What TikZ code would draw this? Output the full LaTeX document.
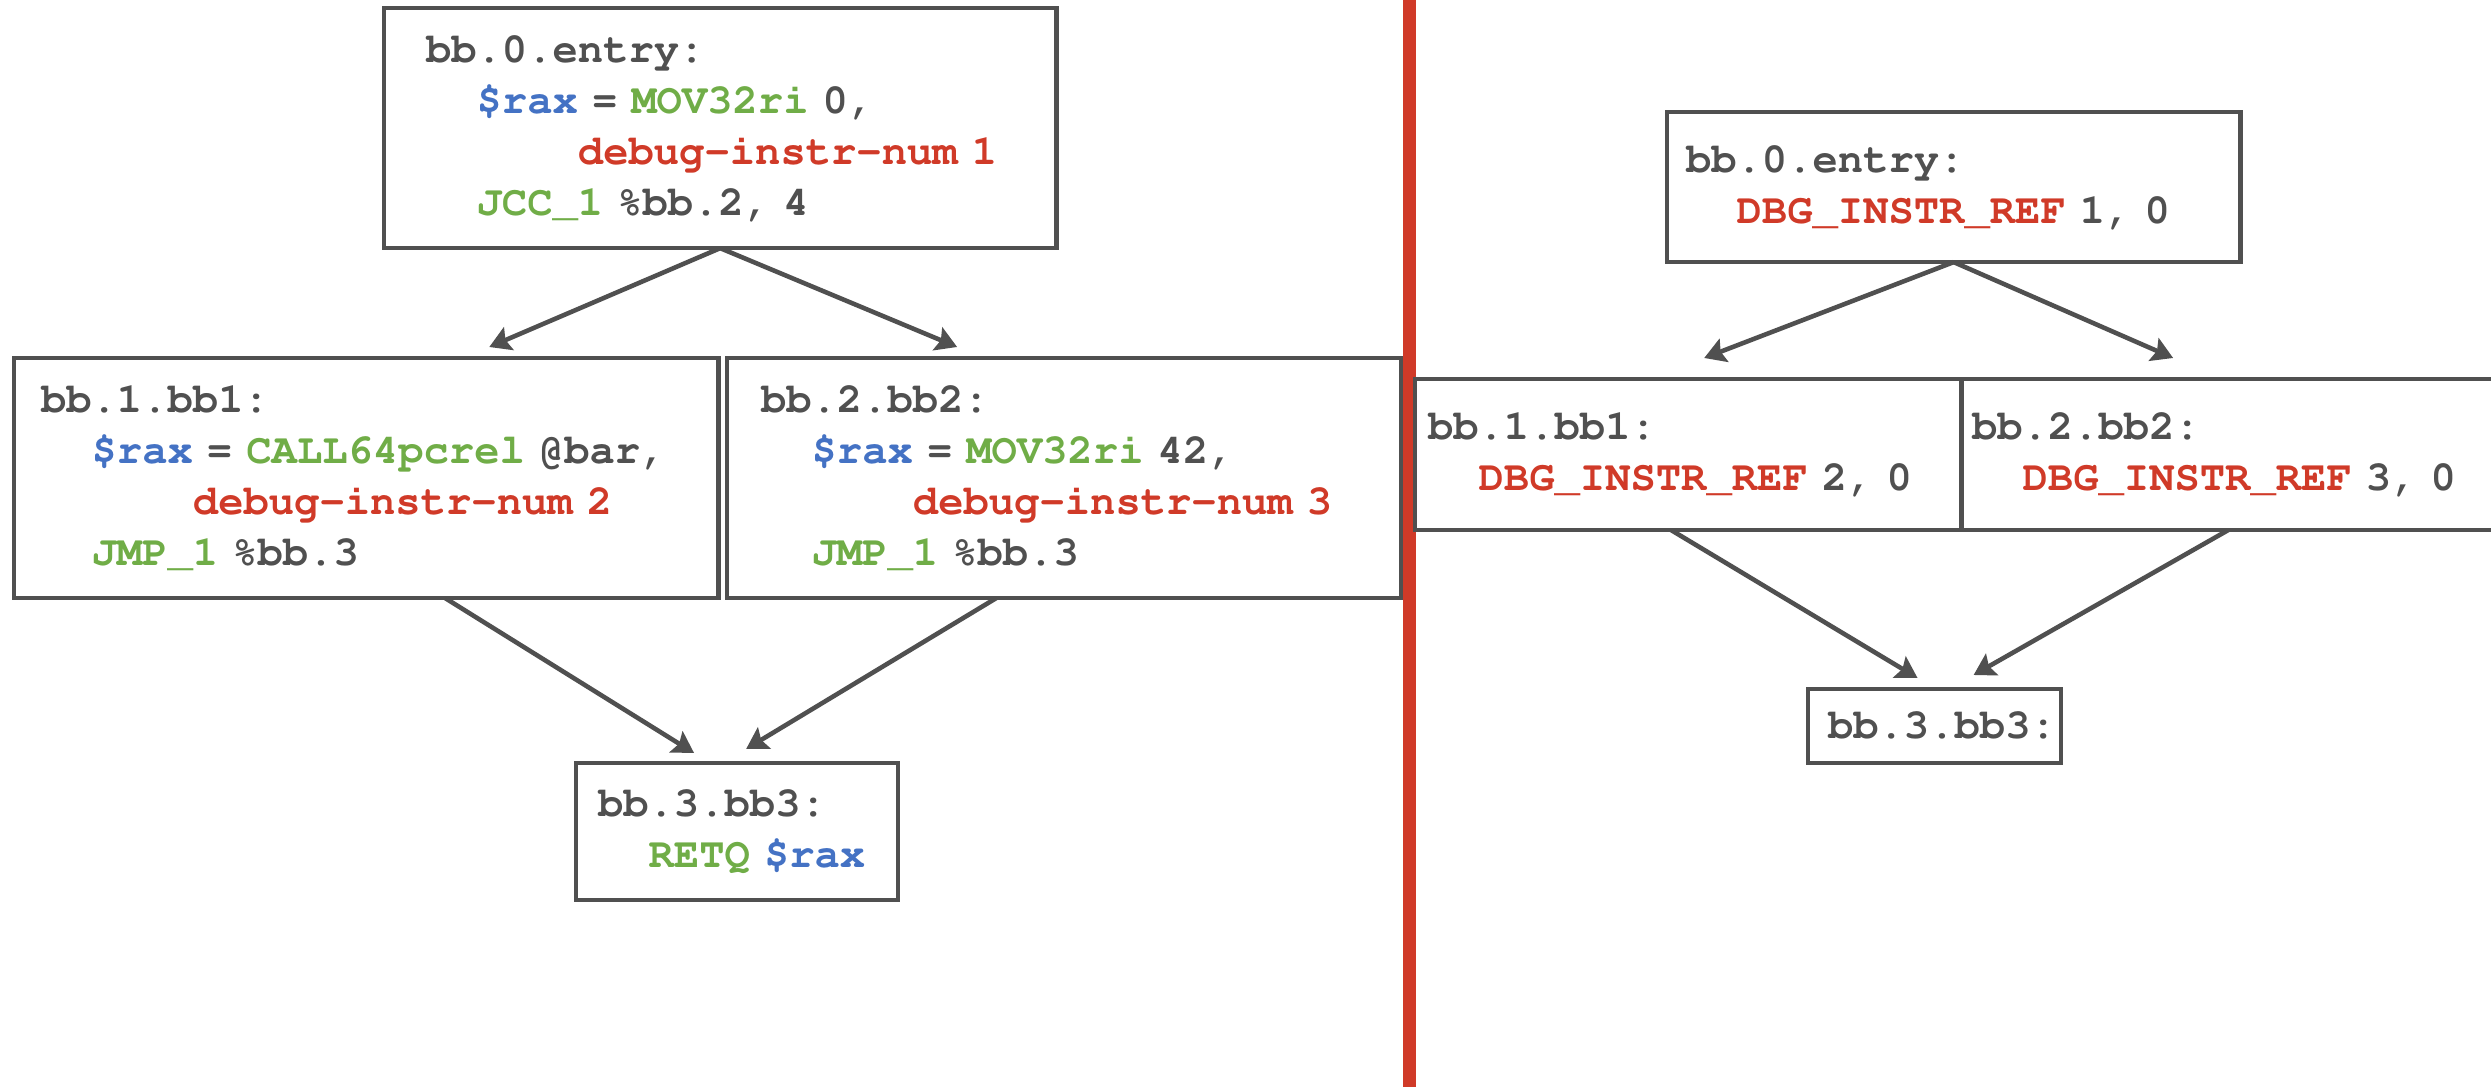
\documentclass[tikz,border=0pt]{standalone}
\usepackage[T1]{fontenc}
\usepackage{courier}
\usetikzlibrary{arrows.meta}

\definecolor{linegray}{RGB}{80,80,80}
\definecolor{codeblue}{RGB}{68,114,196}
\definecolor{codegreen}{RGB}{112,173,71}
\definecolor{codered}{RGB}{208,58,40}

\newcommand{\reg}[1]{\textcolor{codeblue}{#1}}
\newcommand{\opc}[1]{\textcolor{codegreen}{#1}}
\newcommand{\dbg}[1]{\textcolor{codered}{#1}}
\newcommand{\ind}[1]{\hspace*{#1\fontcharwd\font`0}}

\tikzset{
  bbox/.style={draw=linegray, line width=1.3pt, align=left, anchor=north west,
    inner ysep=0pt, outer sep=0pt, text=linegray,
    font={\fontsize{12}{14.5}\selectfont\ttfamily\bfseries\spaceskip=0.6em\relax}},
  flow/.style={draw=linegray, line width=1.3pt,
    -{Stealth[length=6pt,width=7pt,inset=1pt]}},
  divider/.style={draw=codered, line width=0.13cm}
}

\begin{document}
\begin{tikzpicture}[x=0.01cm, y=-0.01cm]
  \useasboundingbox (0,0) rectangle (2491,1087);
  \clip (0,0) rectangle (2491,1087);

  % before: debug-instr-num on the instructions
  \node[bbox, text width=5.88cm, inner xsep=0.42cm, minimum height=2.40cm] (eL) at (384,8) {bb.0.entry:\\
    \ind2\reg{\$rax}~=~\opc{MOV32ri}~0,\\
    \ind6\dbg{debug-instr-num~1}\\
    \ind2\opc{JCC\_1}~\%bb.2,~4};
  \node[bbox, text width=6.50cm, inner xsep=0.27cm, minimum height=2.40cm] (b1L) at (14,358) {bb.1.bb1:\\
    \ind2\reg{\$rax}~=~\opc{CALL64pcrel}~@bar,\\
    \ind6\dbg{debug-instr-num~2}\\
    \ind2\opc{JMP\_1}~\%bb.3};
  \node[bbox, text width=6.06cm, inner xsep=0.34cm, minimum height=2.40cm] (b2L) at (727,358) {bb.2.bb2:\\
    \ind2\reg{\$rax}~=~\opc{MOV32ri}~42,\\
    \ind6\dbg{debug-instr-num~3}\\
    \ind2\opc{JMP\_1}~\%bb.3};
  \node[bbox, text width=2.78cm, inner xsep=0.22cm, minimum height=1.37cm] (b3L) at (576,763) {bb.3.bb3:\\
    \ind2\opc{RETQ}~\reg{\$rax}};

  \draw[flow] (eL.south) -- ([xshift=1.23cm,yshift=0.11cm]b1L.north);
  \draw[flow] (eL.south) -- ([xshift=-1.07cm,yshift=0.11cm]b2L.north);
  \draw[flow] ([xshift=0.79cm]b1L.south) -- ([xshift=-0.43cm,yshift=0.10cm]b3L.north);
  \draw[flow] ([xshift=-0.68cm]b2L.south) -- ([xshift=0.09cm,yshift=0.14cm]b3L.north);

  \draw[divider] (1409.5,0) -- (1409.5,1087);

  % after: DBG_INSTR_REF in each block
  \node[bbox, text width=5.35cm, inner xsep=0.19cm, minimum height=1.50cm] (eR) at (1667,112) {bb.0.entry:\\
    \ind2\dbg{DBG\_INSTR\_REF}~1,~0};
  \node[bbox, text width=5.20cm, inner xsep=0.13cm, minimum height=1.51cm] (b1R) at (1415,379) {bb.1.bb1:\\
    \ind2\dbg{DBG\_INSTR\_REF}~2,~0};
  \node[bbox, text width=5.28cm, inner xsep=0.11cm, minimum height=1.51cm] (b2R) at (1961,379) {bb.2.bb2:\\
    \ind2\dbg{DBG\_INSTR\_REF}~3,~0};
  \node[bbox, text width=2.13cm, inner xsep=0.20cm, minimum height=0.74cm] (b3R) at (1808,689) {bb.3.bb3:};

  \draw[flow] (eR.south) -- ([xshift=0.16cm,yshift=0.21cm]b1R.north);
  \draw[flow] (eR.south) -- ([xshift=-0.63cm,yshift=0.21cm]b2R.north);
  \draw[flow] ([xshift=-0.17cm]b1R.south) -- ([xshift=-0.17cm,yshift=0.11cm]b3R.north);
  \draw[flow] ([xshift=-0.08cm]b2R.south) -- ([xshift=0.39cm,yshift=0.14cm]b3R.north);
\end{tikzpicture}
\end{document}
